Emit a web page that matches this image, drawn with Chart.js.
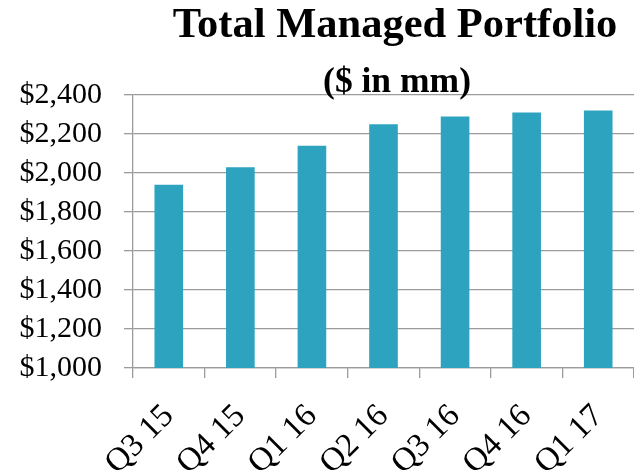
<!DOCTYPE html>
<html>
<head>
<meta charset="utf-8">
<script src="https://cdn.jsdelivr.net/npm/chart.js@4/dist/chart.umd.min.js"></script>
<style>
  html, body { margin: 0; padding: 0; background: #fff; overflow: hidden; }
  canvas { display: block; }
</style>
</head>
<body>
<canvas id="grafica" width="634" height="475"></canvas>
<script>
// Datos de la gráfica
const quarters = ['Q3 15', 'Q4 15', 'Q1 16', 'Q2 16', 'Q3 16', 'Q4 16', 'Q1 17'];
const portfolio = [1940, 2030, 2140, 2250, 2290, 2310, 2320];
const yMin = 1000;
const yMax = 2400;
const yStep = 200;

const titleText = 'Total Managed Portfolio';
const subtitleText = '($ in mm)';

const serif = 'Liberation Serif, Times New Roman, serif';
const gridColor = '#9b9b9b';

// El título va algo a la derecha del centro del área, como en el original,
// así que se dibuja con un plugin pequeño en vez del título de Chart.js
const titulos = {
    id: 'titulos',
    afterDraw(chart) {
        const c = chart.ctx;
        c.save();
        c.fillStyle = '#000';
        c.textAlign = 'center';
        c.textBaseline = 'alphabetic';
        c.font = 'bold 42.5px ' + serif;
        c.fillText(titleText, 395, 37);
        c.font = 'bold 35.5px ' + serif;
        c.fillText(subtitleText, 397, 92);
        c.restore();
    }
};

const ctx = document.getElementById('grafica').getContext('2d');
const grafica = new Chart(ctx, {
    type: 'bar',
    data: {
        labels: quarters,
        datasets: [{
            data: portfolio,
            backgroundColor: '#2da3bf',
            borderWidth: 0,
            barPercentage: 0.4,
            categoryPercentage: 1.0
        }]
    },
    options: {
        responsive: false,
        animation: false,
        layout: {
            padding: { left: 0, right: 0, top: 95, bottom: 0 }
        },
        plugins: {
            legend: { display: false },
            tooltip: { enabled: false }
        },
        scales: {
            x: {
                afterFit: (scale) => {
                    // las etiquetas giradas no deben encoger el área del gráfico
                    scale.height = 107;
                    scale.paddingLeft = 0;
                    scale.paddingRight = 0;
                },
                grid: {
                    display: true,
                    drawOnChartArea: false,
                    drawTicks: true,
                    tickLength: 10,
                    color: gridColor,
                    lineWidth: 1.3
                },
                border: { color: gridColor, width: 1.3 },
                ticks: {
                    color: '#000',
                    font: { family: serif, size: 33 },
                    minRotation: 45,
                    maxRotation: 45,
                    autoSkip: false,
                    padding: 19
                }
            },
            y: {
                min: yMin,
                max: yMax,
                afterFit: (scale) => { scale.width = 133; },
                grid: {
                    color: gridColor,
                    lineWidth: 1.3,
                    drawTicks: true,
                    tickLength: 9
                },
                border: { color: gridColor, width: 1.3 },
                ticks: {
                    stepSize: yStep,
                    color: '#000',
                    font: { family: serif, size: 30 },
                    padding: 22,
                    callback: (value) => '$' + value.toLocaleString('en-US')
                }
            }
        }
    },
    plugins: [titulos]
});
</script>
</body>
</html>
